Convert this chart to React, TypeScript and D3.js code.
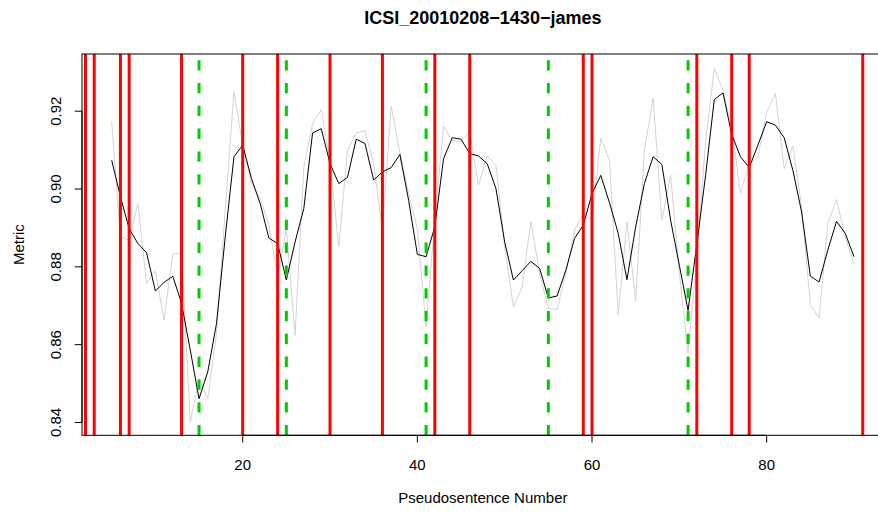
import React from "react";
import * as d3 from "d3";

const title = "ICSI_20010208\u22121430\u2212james";
const xLabel = "Pseudosentence Number";
const yLabel = "Metric";

const startIndex = 5;
const smoothed = [
  0.9074, 0.898, 0.8898, 0.886, 0.8836, 0.8738, 0.876, 0.8776, 0.8706, 0.8586,
  0.8461, 0.853, 0.8654, 0.8877, 0.9083, 0.9113, 0.9027, 0.8963, 0.8874, 0.886,
  0.8766, 0.8864, 0.895, 0.9144, 0.9155, 0.9065, 0.9014, 0.903, 0.9128, 0.9117,
  0.9023, 0.9044, 0.9055, 0.9089, 0.8971, 0.8832, 0.8826, 0.8903, 0.9078, 0.9132,
  0.9128, 0.9091, 0.9085, 0.9065, 0.9001, 0.8864, 0.8766, 0.879, 0.8814, 0.8796,
  0.872, 0.8725, 0.8791, 0.8873, 0.8907, 0.8988, 0.9035, 0.8965, 0.8886, 0.8767,
  0.8903, 0.9014, 0.9083, 0.9063, 0.892, 0.8804, 0.8688, 0.8858, 0.9034, 0.923,
  0.9247, 0.914, 0.9083, 0.9055, 0.9113, 0.9173, 0.9164, 0.9132, 0.9048, 0.8941,
  0.8776, 0.8761, 0.8843, 0.8917, 0.8886, 0.8826,
];
const raw = [
  0.9173, 0.8877, 0.8868, 0.8963, 0.8757, 0.879, 0.8663, 0.8834, 0.8834, 0.8401,
  0.8513, 0.8461, 0.8628, 0.8945, 0.925, 0.9113, 0.9014, 0.8976, 0.8907, 0.8774,
  0.8898, 0.8624, 0.9057, 0.9168, 0.9204, 0.907, 0.8851, 0.91, 0.9144, 0.915,
  0.9065, 0.8894, 0.9213, 0.9095, 0.8988, 0.8898, 0.8646, 0.892, 0.9161, 0.9125,
  0.9121, 0.9147, 0.901, 0.9085, 0.9061, 0.8851, 0.8697, 0.8748, 0.8917, 0.8783,
  0.8693, 0.869, 0.8783, 0.8894, 0.8937, 0.892, 0.913, 0.9074, 0.8676, 0.8916,
  0.8711, 0.91, 0.9233, 0.892, 0.9035, 0.8783, 0.8577, 0.882, 0.912, 0.931,
  0.9254, 0.916, 0.8988, 0.9065, 0.9083, 0.9198, 0.9245, 0.9053, 0.911, 0.8954,
  0.8703, 0.8669, 0.8911, 0.8973, 0.8877, 0.8807,
];
const redBoundaries = [2, 3, 6, 7, 13, 20, 24, 30, 36, 42, 46, 59, 60, 72, 76, 78, 91];
const greenBoundaries = [15, 25, 41, 55, 71];
const xTicks = [20, 40, 60, 80];
const yTicks = [0.84, 0.86, 0.88, 0.9, 0.92];
const xDomain = [1.6, 93.4];
const yDomain = [0.8367, 0.9347];

const W = 878;
const H = 516;
const left = 82;
const right = 883.7;
const top = 54;
const bottom = 435.3;
const font = "'Liberation Sans', Arial, Helvetica, sans-serif";

export default function App() {
  const x = d3.scaleLinear().domain(xDomain).range([left, right]);
  const y = d3.scaleLinear().domain(yDomain).range([bottom, top]);
  const line = d3
    .line<number>()
    .x((_, i) => x(startIndex + i))
    .y((d) => y(d));

  return (
    <svg
      width={W}
      height={H}
      style={{ position: "absolute", left: 0, top: 0, background: "#fff" }}
      fontFamily={font}
    >
      <defs>
        <clipPath id="plotClip">
          <rect x={left} y={top} width={right - left} height={bottom - top} />
        </clipPath>
      </defs>
      <rect x={0} y={0} width={W} height={H} fill="#fff" />
      <g clipPath="url(#plotClip)">
        <path d={line(raw) || ""} fill="none" stroke="#d3d3d3" strokeWidth={1} />
        <path d={line(smoothed) || ""} fill="none" stroke="#000" strokeWidth={1} />
        {redBoundaries.map((b) => (
          <line key={"r" + b} x1={x(b)} x2={x(b)} y1={bottom} y2={top} stroke="#ff0000" strokeWidth={3} />
        ))}
        {greenBoundaries.map((b) => (
          <line
            key={"g" + b}
            x1={x(b)}
            x2={x(b)}
            y1={bottom}
            y2={top}
            stroke="#00cd00"
            strokeWidth={3}
            strokeDasharray="10.3 12.5"
          />
        ))}
      </g>
      <rect x={left} y={top} width={right - left} height={bottom - top} fill="none" stroke="#000" strokeWidth={1} />
      {/* y axis */}
      <line x1={left} x2={left} y1={y(yTicks[0])} y2={y(yTicks[yTicks.length - 1])} stroke="#000" />
      {yTicks.map((t) => (
        <g key={"yt" + t}>
          <line x1={left - 7.2} x2={left} y1={y(t)} y2={y(t)} stroke="#000" />
          <text
            transform={`translate(${left - 21.5},${y(t)}) rotate(-90)`}
            textAnchor="middle"
            fontSize={15}
            fill="#000"
          >
            {d3.format(".2f")(t)}
          </text>
        </g>
      ))}
      {/* x axis */}
      <line x1={x(xTicks[0])} x2={x(xTicks[xTicks.length - 1])} y1={bottom} y2={bottom} stroke="#000" />
      {xTicks.map((t) => (
        <g key={"xt" + t}>
          <line x1={x(t)} x2={x(t)} y1={bottom} y2={bottom + 7.2} stroke="#000" />
          <text x={x(t)} y={469.5} textAnchor="middle" fontSize={15} fill="#000">
            {t}
          </text>
        </g>
      ))}
      <text x={(left + right) / 2} y={502.5} textAnchor="middle" fontSize={15} fill="#000">
        {xLabel}
      </text>
      <text
        transform={`translate(24,${(top + bottom) / 2}) rotate(-90)`}
        textAnchor="middle"
        fontSize={15}
        fill="#000"
      >
        {yLabel}
      </text>
      <text x={(left + right) / 2} y={23.5} textAnchor="middle" fontSize={18} fontWeight="bold" fill="#000">
        {title}
      </text>
    </svg>
  );
}
